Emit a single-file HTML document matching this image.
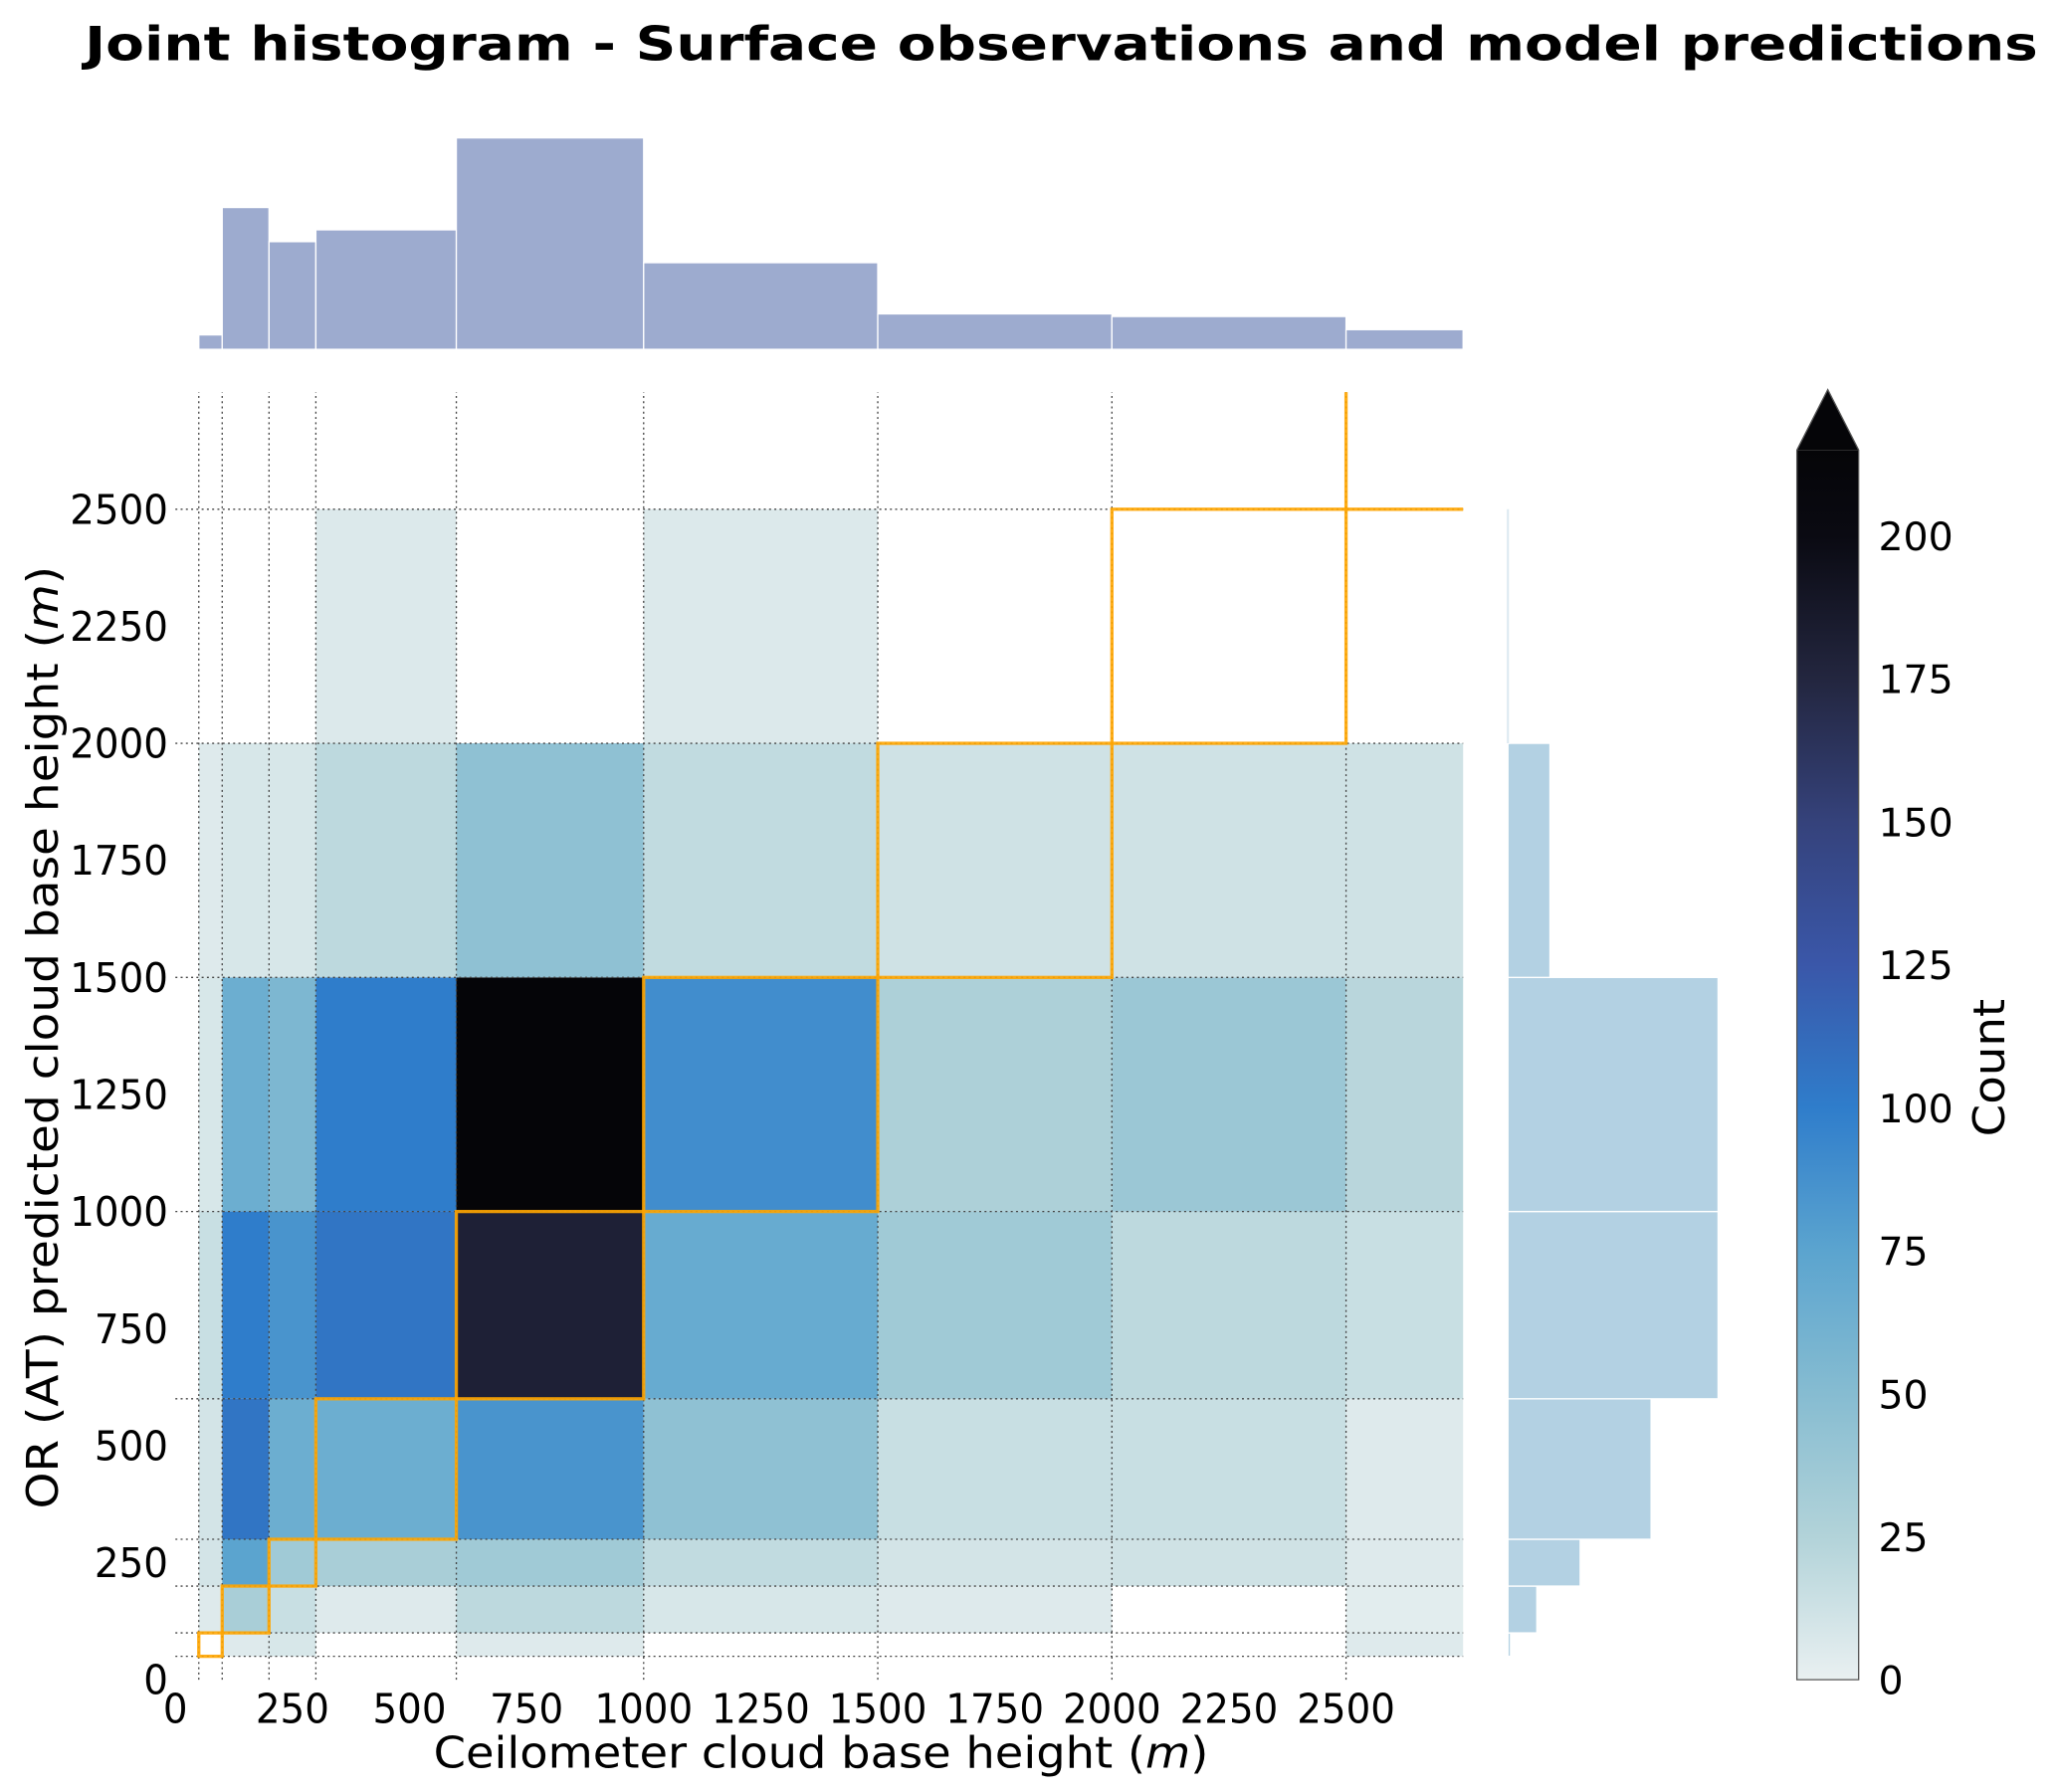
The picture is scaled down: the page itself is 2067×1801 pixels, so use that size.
<!DOCTYPE html>
<html><head><meta charset="utf-8">
<style>
html,body{margin:0;padding:0;background:#fff;}
svg{display:block;}
text{font-family:"DejaVu Sans","Liberation Sans",sans-serif;fill:#000;}
</style></head>
<body>
<svg id="chart" width="2067" height="1801" viewBox="0 0 1566 1364.5" xmlns="http://www.w3.org/2000/svg">
  <rect x="0" y="0" width="1570" height="1370" fill="#fff"/>
  <text x="808" y="46" font-size="36" font-weight="bold" text-anchor="middle" textLength="1487" lengthAdjust="spacingAndGlyphs">Joint histogram - Surface observations and model predictions</text>
  <g id="heat"></g>
  <g id="grid"></g>
  <g id="diag"></g>
  <g id="tophist"></g>
  <g id="righthist"></g>
  <g id="xticks"></g>
  <g id="yticks"></g>
  <text x="625" y="1346" font-size="33" text-anchor="middle" textLength="590" lengthAdjust="spacingAndGlyphs">Ceilometer cloud base height (<tspan font-style="italic">m</tspan>)</text>
  <text transform="translate(44,790) rotate(-90)" font-size="33" text-anchor="middle" textLength="718" lengthAdjust="spacingAndGlyphs">OR (AT) predicted cloud base height (<tspan font-style="italic">m</tspan>)</text>
  <defs>
    <linearGradient id="cbgrad" x1="0" y1="1" x2="0" y2="0"></linearGradient>
  </defs>
  <g id="colorbar"></g>
  <text transform="translate(1526,813) rotate(-90)" font-size="33" text-anchor="middle" textLength="105" lengthAdjust="spacingAndGlyphs">Count</text>
</svg>
<script>
// ---- data ----
const xEdges = [50,100,200,300,600,1000,1500,2000,2500,2750];
const yEdges = [50,100,200,300,600,1000,1500,2000,2500];
const countsR0 = [0,5,8,0,5,0,0,0,5];
const countsR1 = [5,30,15,5,20,8,5,0,3];
const countsR2 = [10,75,35,30,35,18,10,12,5];
const countsR3 = [10,105,65,65,85,45,15,15,5];
const countsR4 = [15,100,85,105,180,68,35,20,15];
const countsR5 = [8,65,55,100,215,90,28,38,22];
const countsR6 = [5,8,8,20,45,18,12,12,12];
const countsR7 = [0,0,0,6,0,6,0,0,0];
const topHistValues = [11,108,82,91,161,66,27,25,15];
const rightHistValues = [2,22,55,109,160,160,32,1];
const xTickLabels = [0,250,500,750,1000,1250,1500,1750,2000,2250,2500];
const yTickLabels = [0,250,500,750,1000,1250,1500,1750,2000,2250,2500];
const cbTickLabels = [0,25,50,75,100,125,150,175,200];
const cmapValues = [0,25,50,75,100,125,150,175,200,215];
const cmapColors = ["#e9f0f1","#b2d3d9","#86bcd1","#5ba4cf","#2f7dcb","#3a57a9","#35427b","#23263f","#0a0a12","#050508"];

// ---- axes ----
const NS="http://www.w3.org/2000/svg";
const X0=133.5, Y0=1279, S=0.3565;
const xs = v => X0 + v*S;
const ys = v => Y0 - v*S;
const TOPBASE=266, RIGHTBASE=1148;
const cbY = v => 1279 - v*4.355;
function mk(tag, attrs, parent){const e=document.createElementNS(NS,tag);for(const k in attrs)e.setAttribute(k,attrs[k]);parent.appendChild(e);return e;}
function hex2rgb(h){return [1,3,5].map(i=>parseInt(h.substr(i,2),16));}
function cmap(v){
  for(let i=0;i<cmapValues.length-1;i++){
    if(v<=cmapValues[i+1]){const t=(v-cmapValues[i])/(cmapValues[i+1]-cmapValues[i]);
      const a=hex2rgb(cmapColors[i]),b=hex2rgb(cmapColors[i+1]);
      return "rgb("+a.map((c,j)=>Math.round(c+(b[j]-c)*t)).join(",")+")";}
  }
  return cmapColors[cmapColors.length-1];
}
const counts=[countsR0,countsR1,countsR2,countsR3,countsR4,countsR5,countsR6,countsR7];

const heat=document.getElementById('heat');
counts.forEach((row,r)=>row.forEach((v,c)=>{
  if(v<=0) return;
  const e=mk('rect',{x:xs(xEdges[c]),y:ys(yEdges[r+1]),width:xs(xEdges[c+1])-xs(xEdges[c]),height:ys(yEdges[r])-ys(yEdges[r+1]),fill:cmap(v)},heat);
  
  
}));

const grid=document.getElementById('grid');
xEdges.slice(0,-1).forEach(v=>{
  const e=mk('line',{x1:xs(v),x2:xs(v),y1:ys(0),y2:ys(2750),stroke:'#444','stroke-width':1,'stroke-dasharray':'1.5,2.5'},grid);
  
  
});
yEdges.forEach(v=>{
  const e=mk('line',{x1:xs(0),x2:xs(2750),y1:ys(v),y2:ys(v),stroke:'#444','stroke-width':1,'stroke-dasharray':'1.5,2.5'},grid);
  
  
});

const diag=document.getElementById('diag');
for(let i=0;i<xEdges.length-2;i++){
  const e=mk('rect',{x:xs(xEdges[i]),y:ys(yEdges[i+1]),width:xs(xEdges[i+1])-xs(xEdges[i]),height:ys(yEdges[i])-ys(yEdges[i+1]),fill:'none',stroke:'#ffa500','stroke-width':2.5,'stroke-opacity':0.9},diag);
  
  
}
const lastI=xEdges.length-2;
const lastBox=mk('path',{d:`M${xs(xEdges[lastI])},${ys(2750)} L${xs(xEdges[lastI])},${ys(yEdges[lastI])} L${xs(xEdges[lastI+1])},${ys(yEdges[lastI])}`,fill:'none',stroke:'#ffa500','stroke-width':2.5,'stroke-opacity':0.9},diag);



const th=document.getElementById('tophist');
topHistValues.forEach((v,i)=>{
  const e=mk('rect',{x:xs(xEdges[i]),y:TOPBASE-v,width:xs(xEdges[i+1])-xs(xEdges[i]),height:v,fill:'#9dabcf',stroke:'#fff','stroke-width':1},th);
  
  
});
const rh=document.getElementById('righthist');
rightHistValues.forEach((v,i)=>{
  const e=mk('rect',{x:RIGHTBASE,y:ys(yEdges[i+1]),width:v,height:ys(yEdges[i])-ys(yEdges[i+1]),fill:'#b3d1e3',stroke:'#fff','stroke-width':1},rh);
  
  
});
mk('line',{x1:RIGHTBASE,x2:RIGHTBASE,y1:ys(2500),y2:ys(2000),stroke:'#dbe8f0','stroke-width':1.5},rh);

const xt=document.getElementById('xticks');
xTickLabels.forEach(v=>{
  const s=String(v);
  const e=mk('text',{x:xs(v),y:1312,'font-size':31,'text-anchor':'middle',textLength:s.length*18.7,lengthAdjust:'spacingAndGlyphs'},xt);
  e.textContent=s;
  
  
});
const yt=document.getElementById('yticks');
yTickLabels.forEach(v=>{
  const s=String(v);
  const e=mk('text',{x:128,y:ys(v)+11,'font-size':31,'text-anchor':'end',textLength:s.length*18.7,lengthAdjust:'spacingAndGlyphs'},yt);
  e.textContent=s;
  
  
});

const grad=document.getElementById('cbgrad');
const vmax=215;
cmapValues.forEach((v,i)=>{mk('stop',{offset:(v/vmax),'stop-color':cmapColors[i]},grad);});
const cb=document.getElementById('colorbar');
const cbx=1368, cbw=47;
const cbBar=mk('rect',{x:cbx,y:cbY(vmax),width:cbw,height:cbY(0)-cbY(vmax),fill:'url(#cbgrad)'},cb);


const tip=mk('polygon',{points:`${cbx},${cbY(vmax)} ${cbx+cbw/2},${cbY(vmax)-46} ${cbx+cbw},${cbY(vmax)}`,fill:cmapColors[cmapColors.length-1]},cb);


mk('path',{d:`M${cbx},${cbY(0)} L${cbx},${cbY(vmax)} L${cbx+cbw/2},${cbY(vmax)-46} L${cbx+cbw},${cbY(vmax)} L${cbx+cbw},${cbY(0)} Z`,fill:'none',stroke:'#555','stroke-width':1},cb);
cbTickLabels.forEach(v=>{
  const s=String(v);
  const e=mk('text',{x:1430,y:cbY(v)+11,'font-size':30,textLength:s.length*19,lengthAdjust:'spacingAndGlyphs'},cb);
  e.textContent=s;
  
  
});
</script>
</body></html>
